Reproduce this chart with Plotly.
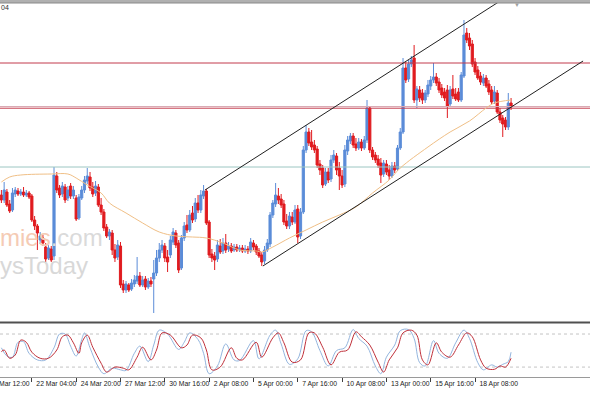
import plotly.graph_objects as go

W, H = 590, 393

# ---------------- data (4H candles) ----------------
open_ = [1.0805,1.0800,1.0808,1.0796,1.0790,1.0806,1.0809,1.0806,1.0808,1.0805,
         1.0807,1.0804,1.0780,1.0774,1.0760,1.0762,1.0753,1.0742,1.0751,1.0744,
         1.0824,1.0812,1.0806,1.0813,1.0802,1.0814,1.0804,1.0802,1.0782,1.0802,
         1.0810,1.0819,1.0823,1.0813,1.0807,1.0813,1.0795,1.0788,1.0773,1.0764,
         1.0767,1.0750,1.0743,1.0754,1.0716,1.0710,1.0715,1.0711,1.0716,1.0719,
         1.0724,1.0715,1.0721,1.0713,1.0719,1.0721,1.0727,1.0742,1.0750,1.0754,
         1.0743,1.0745,1.0758,1.0767,1.0757,1.0732,1.0762,1.0775,1.0770,1.0787,
         1.0781,1.0797,1.0790,1.0804,1.0809,1.0778,1.0746,1.0744,1.0741,1.0754,
         1.0749,1.0757,1.0751,1.0754,1.0750,1.0753,1.0750,1.0752,1.0749,1.0751,
         1.0749,1.0757,1.0754,1.0749,1.0745,1.0739,1.0750,1.0756,1.0785,1.0796,
         1.0804,1.0801,1.0796,1.0779,1.0774,1.0783,1.0778,1.0791,1.0764,1.0788,
         1.0850,1.0868,1.0858,1.0855,1.0851,1.0836,1.0832,1.0816,1.0828,1.0821,
         1.0840,1.0844,1.0832,1.0824,1.0816,1.0849,1.0859,1.0864,1.0856,1.0852,
         1.0858,1.0852,1.0860,1.0892,1.0850,1.0845,1.0841,1.0837,1.0826,1.0836,
         1.0830,1.0824,1.0834,1.0831,1.0852,1.0868,1.0932,1.0921,1.0936,1.0942,
         1.0900,1.0910,1.0907,1.0900,1.0906,1.0914,1.0920,1.0923,1.0918,1.0912,
         1.0908,1.0910,1.0896,1.0911,1.0906,1.0908,1.0900,1.0924,1.0967,1.0962,
         1.0956,1.0938,1.0930,1.0924,1.0917,1.0922,1.0916,1.0910,1.0899,1.0907,
         1.0888,1.0882,1.0880,1.0873,1.0897]
high = [1.0810,1.0818,1.0811,1.0800,1.0812,1.0813,1.0812,1.0811,1.0813,1.0810,
        1.0809,1.0806,1.0784,1.0776,1.0768,1.0765,1.0757,1.0755,1.0754,1.0833,
        1.0828,1.0815,1.0818,1.0816,1.0814,1.0817,1.0814,1.0805,1.0806,1.0814,
        1.0824,1.0832,1.0828,1.0818,1.0819,1.0816,1.0802,1.0791,1.0776,1.0771,
        1.0770,1.0756,1.0760,1.0758,1.0720,1.0719,1.0717,1.0721,1.0725,1.0743,
        1.0728,1.0724,1.0724,1.0722,1.0723,1.0740,1.0750,1.0757,1.0760,1.0757,
        1.0750,1.0764,1.0772,1.0770,1.0760,1.0765,1.0778,1.0785,1.0790,1.0794,
        1.0802,1.0805,1.0810,1.0815,1.0811,1.0780,1.0751,1.0748,1.0760,1.0761,
        1.0762,1.0766,1.0758,1.0757,1.0756,1.0756,1.0755,1.0755,1.0755,1.0754,
        1.0762,1.0760,1.0756,1.0752,1.0748,1.0754,1.0761,1.0788,1.0800,1.0817,
        1.0812,1.0806,1.0800,1.0786,1.0788,1.0788,1.0795,1.0795,1.0792,1.0854,
        1.0875,1.0872,1.0870,1.0860,1.0854,1.0840,1.0835,1.0832,1.0832,1.0845,
        1.0850,1.0847,1.0838,1.0830,1.0855,1.0864,1.0867,1.0867,1.0862,1.0862,
        1.0861,1.0864,1.0900,1.0894,1.0853,1.0848,1.0845,1.0842,1.0840,1.0840,
        1.0835,1.0838,1.0838,1.0855,1.0872,1.0942,1.0938,1.0940,1.0944,1.0955,
        1.0914,1.0914,1.0911,1.0910,1.0920,1.0924,1.0937,1.0927,1.0922,1.0916,
        1.0912,1.0915,1.0914,1.0925,1.0912,1.0912,1.0928,1.0980,1.0972,1.0967,
        1.0960,1.0942,1.0934,1.0928,1.0926,1.0925,1.0920,1.0914,1.0914,1.0910,
        1.0892,1.0885,1.0883,1.0907,1.0902]
low = [1.0797,1.0797,1.0793,1.0787,1.0788,1.0803,1.0804,1.0804,1.0803,1.0803,
       1.0801,1.0778,1.0770,1.0750,1.0756,1.0754,1.0738,1.0740,1.0738,1.0740,
       1.0807,1.0802,1.0803,1.0797,1.0799,1.0801,1.0801,1.0779,1.0780,1.0800,
       1.0807,1.0816,1.0809,1.0803,1.0804,1.0793,1.0785,1.0769,1.0762,1.0760,
       1.0745,1.0738,1.0740,1.0712,1.0707,1.0707,1.0708,1.0709,1.0713,1.0716,
       1.0713,1.0713,1.0710,1.0711,1.0713,1.0687,1.0724,1.0738,1.0747,1.0738,
       1.0728,1.0742,1.0755,1.0752,1.0727,1.0730,1.0759,1.0767,1.0768,1.0777,
       1.0778,1.0787,1.0787,1.0801,1.0775,1.0742,1.0738,1.0730,1.0738,1.0746,
       1.0746,1.0747,1.0748,1.0747,1.0748,1.0748,1.0748,1.0747,1.0747,1.0746,
       1.0747,1.0750,1.0745,1.0742,1.0734,1.0736,1.0748,1.0753,1.0782,1.0793,
       1.0796,1.0792,1.0775,1.0771,1.0771,1.0775,1.0776,1.0757,1.0761,1.0786,
       1.0847,1.0854,1.0850,1.0847,1.0832,1.0825,1.0812,1.0814,1.0817,1.0818,
       1.0837,1.0825,1.0810,1.0812,1.0813,1.0845,1.0856,1.0852,1.0849,1.0850,
       1.0849,1.0850,1.0857,1.0847,1.0840,1.0837,1.0832,1.0817,1.0823,1.0825,
       1.0820,1.0822,1.0827,1.0829,1.0850,1.0866,1.0917,1.0918,1.0933,1.0897,
       1.0892,1.0898,1.0896,1.0897,1.0903,1.0910,1.0917,1.0914,1.0907,1.0902,
       1.0899,1.0882,1.0893,1.0901,1.0899,1.0898,1.0898,1.0922,1.0957,1.0950,
       1.0933,1.0925,1.0920,1.0915,1.0914,1.0912,1.0905,1.0896,1.0896,1.0886,
       1.0877,1.0863,1.0870,1.0870,1.0890]
close = [1.0800,1.0810,1.0795,1.0789,1.0807,1.0810,1.0806,1.0808,1.0805,1.0807,
         1.0803,1.0780,1.0774,1.0767,1.0764,1.0757,1.0741,1.0752,1.0740,1.0825,
         1.0810,1.0805,1.0814,1.0800,1.0810,1.0804,1.0810,1.0781,1.0803,1.0810,
         1.0820,1.0824,1.0812,1.0806,1.0814,1.0795,1.0788,1.0772,1.0764,1.0768,
         1.0750,1.0742,1.0755,1.0715,1.0710,1.0716,1.0710,1.0717,1.0720,1.0724,
         1.0715,1.0720,1.0713,1.0719,1.0716,1.0727,1.0742,1.0750,1.0755,1.0742,
         1.0738,1.0760,1.0768,1.0755,1.0730,1.0762,1.0774,1.0770,1.0785,1.0780,
         1.0797,1.0790,1.0805,1.0809,1.0777,1.0745,1.0742,1.0740,1.0755,1.0748,
         1.0757,1.0750,1.0754,1.0749,1.0753,1.0750,1.0752,1.0749,1.0751,1.0749,
         1.0758,1.0753,1.0748,1.0744,1.0738,1.0750,1.0757,1.0785,1.0797,1.0805,
         1.0800,1.0795,1.0778,1.0774,1.0784,1.0778,1.0790,1.0763,1.0788,1.0850,
         1.0868,1.0857,1.0853,1.0850,1.0835,1.0830,1.0815,1.0828,1.0820,1.0840,
         1.0845,1.0830,1.0824,1.0815,1.0850,1.0860,1.0864,1.0855,1.0852,1.0858,
         1.0852,1.0860,1.0892,1.0850,1.0843,1.0840,1.0835,1.0825,1.0837,1.0828,
         1.0824,1.0834,1.0830,1.0852,1.0868,1.0932,1.0920,1.0936,1.0940,1.0900,
         1.0911,1.0902,1.0900,1.0907,1.0915,1.0920,1.0923,1.0917,1.0910,1.0905,
         1.0902,1.0894,1.0910,1.0904,1.0901,1.0900,1.0925,1.0965,1.0960,1.0954,
         1.0936,1.0928,1.0922,1.0918,1.0922,1.0914,1.0908,1.0898,1.0908,1.0888,
         1.0880,1.0876,1.0873,1.0897,1.0893]
bar_idx = list(range(len(close)))

# moving average (sampled readings)
ma_idx = [0, 3, 7, 18, 24, 27, 31, 36, 39, 45, 51, 57, 63, 69, 74, 80, 86, 92, 94,
          98, 104, 110, 116, 122, 128, 134, 140, 144, 154, 162, 169, 175, 178, 184]
ma_val = [1.0818, 1.0823, 1.0825, 1.0826, 1.0826, 1.0822, 1.0815, 1.0807, 1.0797,
          1.0787, 1.0777, 1.0768, 1.0764, 1.0763, 1.0762, 1.0757, 1.0750, 1.0749,
          1.0748, 1.0753, 1.0762, 1.0770, 1.0778, 1.0785, 1.0793, 1.0807, 1.0820,
          1.0832, 1.0853, 1.0868, 1.0879, 1.0892, 1.0897, 1.0900]

# horizontal levels and channel
resist_top = 1.0937
resist_mid = 1.08918
resist_mid_light = 1.08935
support_green = 1.0833
chan_up_idx = [73.5, 184.0]
chan_up_val = [1.0810, 1.1006]
chan_lo_idx = [94.4, 210.0]
chan_lo_val = [1.0734, 1.0939]

# stochastic
st_red_idx = [0, 1, 3, 5, 7, 9, 11, 14, 17, 20, 22, 24, 26, 28, 29, 31, 33, 36, 38, 41, 44, 46,
              49, 51, 54, 56, 58, 61, 65, 67, 69, 72, 74, 76, 79, 83, 85, 87, 92, 94, 98, 100,
              102, 105, 108, 111, 113, 116, 119, 122, 125, 128, 130, 133, 136, 138, 140, 143,
              145, 148, 150, 152, 154, 157, 159, 162, 165, 168, 170, 173, 175, 178, 180, 182, 184]
st_red_val = [48, 51, 36, 42, 69, 65, 47, 36, 36, 51, 75, 78, 64, 45, 64, 78, 56, 27, 11, 20, 18, 15,
              38, 56, 33, 51, 82, 78, 55, 60, 78, 73, 51, 15, 20, 55, 36, 33, 65, 38, 73, 82,
              64, 29, 33, 82, 82, 56, 24, 47, 51, 84, 75, 60, 29, 11, 33, 55,
              82, 87, 78, 33, 24, 64, 47, 38, 60, 82, 75, 33, 18, 16, 22, 20, 36]
st_blue_idx = [0, 2, 4, 6, 8, 10, 13, 16, 19, 21, 23, 25, 27, 29, 30, 32, 35, 37, 40, 43, 45, 48,
               50, 53, 55, 57, 60, 64, 66, 68, 71, 73, 75, 78, 81, 84, 86, 91, 93, 97, 99, 101,
               104, 107, 110, 112, 115, 118, 121, 124, 127, 129, 132, 135, 137, 139, 142, 144,
               147, 149, 151, 153, 156, 158, 161, 164, 167, 169, 172, 174, 177, 179, 181, 183, 184]
st_blue_val = [55, 40, 38, 65, 66, 45, 33, 33, 55, 80, 80, 58, 40, 70, 82, 55, 20, 8, 18, 15, 14, 45,
               58, 30, 60, 87, 80, 52, 65, 82, 70, 45, 8, 22, 62, 33, 32, 68, 35, 78, 87, 62,
               25, 35, 86, 84, 50, 22, 50, 55, 88, 72, 58, 22, 8, 38, 60, 86,
               88, 72, 28, 22, 68, 45, 36, 64, 87, 72, 28, 15, 24, 20, 25, 30, 47]
st_levels = [20, 80]

tick_idx = [11, 27, 43, 59, 75, 91, 107, 123, 139, 155, 171]
tick_labels = ["22 Mar 04:00", "24 Mar 20:00", "27 Mar 12:00", "30 Mar 16:00",
               "2 Apr 08:00", "5 Apr 00:00", "7 Apr 16:00", "10 Apr 08:00",
               "13 Apr 00:00", "15 Apr 16:00", "18 Apr 08:00"]
first_label = "Mar 12:00"   # visible part of the clipped first time label

# ---------------- styling ----------------
BLUE = "#5b8cd8"
RED = "#e01b1f"
FONT = "Liberation Sans, Arial"
TICK_SIZE = 6.8
X_RANGE = [-0.5, 212.5]

def py(px):
    return 1 - px / H

main_dom = [py(321), py(3)]
ind_dom = [py(377), py(323)]

fig = go.Figure()

# watermark (behind candles)
fig.add_trace(go.Scatter(
    x=[-0.5, -0.5], y=[1.0760, 1.0732], mode="text",
    text=['<span style="color:#f5cbb4">mies</span><span style="color:#dadada">.com</span>',
          '<span style="color:#d8d8d8">ysToday</span>'],
    textposition="middle right",
    textfont=dict(size=24, family="Liberation Sans, Arial"),
    hoverinfo="skip", showlegend=False, xaxis="x", yaxis="y"))

# horizontal levels
for val, col in [(resist_top, "#c23a4c"), (resist_mid_light, "#d9aab4"),
                 (resist_mid, "#c23a4c"), (support_green, "#9cc6c2")]:
    fig.add_trace(go.Scatter(x=X_RANGE, y=[val, val], mode="lines",
                             line=dict(color=col, width=1), hoverinfo="skip",
                             showlegend=False, xaxis="x", yaxis="y"))

# moving average
fig.add_trace(go.Scatter(x=ma_idx, y=ma_val, mode="lines", line_shape="spline",
                         line=dict(color="#f0bf86", width=1), hoverinfo="skip",
                         showlegend=False, xaxis="x", yaxis="y"))

# candles
fig.add_trace(go.Candlestick(
    x=bar_idx, open=open_, high=high, low=low, close=close,
    increasing=dict(line=dict(color=BLUE, width=1), fillcolor=BLUE),
    decreasing=dict(line=dict(color=RED, width=1), fillcolor=RED),
    whiskerwidth=0, showlegend=False, xaxis="x", yaxis="y"))

# channel lines
for xs, ys in [(chan_up_idx, chan_up_val), (chan_lo_idx, chan_lo_val)]:
    fig.add_trace(go.Scatter(x=xs, y=ys, mode="lines",
                             line=dict(color="#202020", width=1), hoverinfo="skip",
                             showlegend=False, xaxis="x", yaxis="y"))

# stochastic
for lv in st_levels:
    fig.add_trace(go.Scatter(x=X_RANGE, y=[lv, lv], mode="lines",
                             line=dict(color="#c4c4c4", width=1, dash="dot"),
                             hoverinfo="skip", showlegend=False, xaxis="x2", yaxis="y2"))
fig.add_trace(go.Scatter(x=st_blue_idx, y=st_blue_val, mode="lines", line_shape="spline",
                         line=dict(color="#93b5de", width=1), hoverinfo="skip",
                         showlegend=False, xaxis="x2", yaxis="y2"))
fig.add_trace(go.Scatter(x=st_red_idx, y=st_red_val, mode="lines", line_shape="spline",
                         line=dict(color="#c0303a", width=1), hoverinfo="skip",
                         showlegend=False, xaxis="x2", yaxis="y2"))

fig.update_layout(
    width=W, height=H, autosize=False,
    margin=dict(l=0, r=0, t=0, b=0, autoexpand=False),
    paper_bgcolor="white", plot_bgcolor="white",
    showlegend=False, boxgap=0.22, boxgroupgap=0,
    xaxis=dict(domain=[0, 1], range=X_RANGE, anchor="y", showticklabels=False,
               showgrid=False, zeroline=False, showline=False, ticks="",
               rangeslider=dict(visible=False), automargin=False),
    yaxis=dict(domain=main_dom, range=[1.0679, 1.0997], showticklabels=False,
               showgrid=False, zeroline=False, showline=False, ticks="", automargin=False),
    xaxis2=dict(domain=[0, 1], matches="x", anchor="y2", showgrid=False, zeroline=False,
                showline=False, tickmode="array", tickvals=tick_idx, ticktext=tick_labels,
                ticks="outside", ticklen=4, tickcolor="#404040", tickwidth=1,
                ticklabelposition="outside right", ticklabelshift=4, tickangle=0,
                automargin=False,
                tickfont=dict(family=FONT, size=TICK_SIZE, color="#202020")),
    yaxis2=dict(domain=ind_dom, range=[2, 100], showticklabels=False, showgrid=False,
                zeroline=False, showline=False, ticks="", automargin=False),
)

fig.add_annotation(x=0, xref="paper", y=py(383), yref="paper",
                   text=first_label, showarrow=False, xanchor="left", yanchor="middle",
                   xshift=-3, font=dict(family=FONT, size=TICK_SIZE, color="#202020"))
fig.add_annotation(x=0, xref="paper", y=py(8), yref="paper", text="04", showarrow=False,
                   xanchor="left", yanchor="middle", xshift=-1,
                   font=dict(family="Liberation Sans, Arial", size=7, color="#303030"))
fig.add_annotation(x=517 / W, xref="paper", y=py(5), yref="paper", text="▼", showarrow=False,
                   xanchor="center", yanchor="middle",
                   font=dict(size=6, color="#a0a0a0"))

# window frame
fig.add_shape(type="rect", xref="paper", yref="paper", x0=0, x1=1, y0=py(3), y1=1,
              fillcolor="#b0b0b0", line=dict(width=0), layer="above")
fig.add_shape(type="line", xref="paper", yref="paper", x0=0, x1=1, y0=py(3), y1=py(3),
              line=dict(color="#8a8a8a", width=1), layer="above")
fig.add_shape(type="line", xref="paper", yref="paper", x0=0, x1=1, y0=py(322.5), y1=py(322.5),
              line=dict(color="#505050", width=2), layer="above")
fig.add_shape(type="line", xref="paper", yref="paper", x0=0, x1=1, y0=py(377.5), y1=py(377.5),
              line=dict(color="#9a9a9a", width=1), layer="above")

fig.write_html("out.html")
